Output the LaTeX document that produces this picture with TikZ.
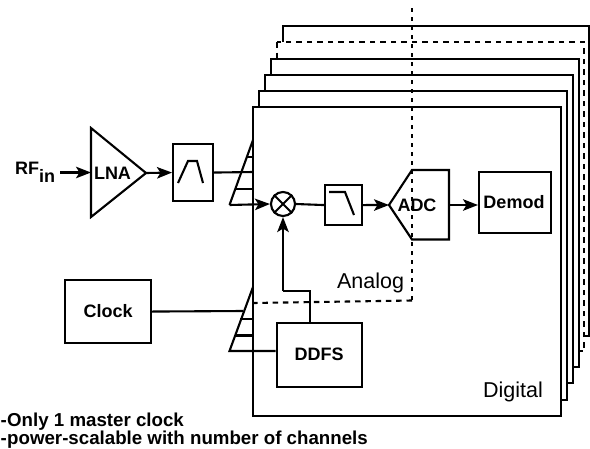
\documentclass[tikz,border=0pt]{standalone}
\usepackage{fontspec}
\setmainfont{Liberation Sans}
\usetikzlibrary{arrows.meta}
\tikzset{
  px/.style={x=1pt,y=-1pt},
  ln/.style={line width=2.1pt,line join=miter},
  arr/.style={ln,-{Stealth[length=15pt,width=11.5pt,inset=3.5pt]}},
  card/.style={ln,fill=white},
  dashcard/.style={ln,fill=white,dash pattern=on 5.5pt off 5pt},
  dotline/.style={line width=2.6pt,dash pattern=on 3.5pt off 5.5pt},
  dashline/.style={line width=2.1pt,dash pattern=on 5.5pt off 4.8pt},
  box/.style={ln,draw,fill=white,inner sep=0pt,font=\fontsize{18}{18}\bfseries\selectfont,anchor=north west},
  lbl/.style={inner sep=0pt,font=\fontsize{18}{18}\bfseries\selectfont},
  reg/.style={inner sep=0pt,font=\fontsize{21.5}{22}\selectfont},
  note/.style={inner sep=0pt,anchor=base west,font=\fontsize{18.7}{18}\bfseries\selectfont}
}
\begin{document}
\begin{tikzpicture}[px]
\useasboundingbox (0,0) rectangle (590,448);
\fill[white] (0,0) rectangle (590,448);
% stacked channel cards
\draw[card] (283,25.7) rectangle (589,336);
\draw[dashcard] (277,42) rectangle (584,351);
\draw[card] (271,58.7) rectangle (579,367);
\draw[card] (265,75) rectangle (573,383);
\draw[card] (259,91) rectangle (567,400);
\draw[card] (253,107) rectangle (561,416);
% left signal path
\node[lbl,anchor=base west] (rfin) at (15,174) {RF\raisebox{-8.5pt}{in}};
\coordinate (rfstart) at (60,172.5);
\coordinate (lnaa) at (91,128);
\coordinate (lnab) at (91,217);
\coordinate (lnac) at (146,173);
\coordinate (lnain) at (91,172.5);
\draw[ln] (lnaa) -- (lnac) -- (lnab) -- cycle;
\node[lbl] (lna) at (112.5,173) {LNA};
\draw[arr] (rfstart) -- (lnain);
\node[box,minimum width=40pt,minimum height=57pt] (bpf) at (172,143) {};
\draw[ln] (178,183) -- (188,161) -- (197,161) -- (203,183);
\draw[arr] (lnac) -- (bpf.west);
% upper splitter
\coordinate (sa) at (253,140);
\coordinate (sb) at (229.5,205);
\coordinate (s1l) at (247,157);
\coordinate (s1r) at (253,157);
\coordinate (s2r) at (253,172);
\coordinate (s3l) at (236,189);
\coordinate (s3r) at (253,189);
\draw[ln] (sa) -- (sb);
\draw[ln] (s1l) -- (s1r);
\draw[ln] (bpf.east) -- (s2r);
\draw[ln] (s3l) -- (s3r);
% mixer
\node[ln,draw,circle,fill=white,minimum size=24pt,inner sep=0pt] (mix) at (283,204) {};
\draw[ln] (mix.north west) -- (mix.south east);
\draw[ln] (mix.north east) -- (mix.south west);
\draw[arr] (sb) -- (mix.west);
% low-pass filter
\node[box,minimum width=37pt,minimum height=40pt] (lpf) at (324,184) {};
\draw[ln] (329,192) -- (345,192) -- (354,215);
\draw[ln] (mix.east) -- (lpf.west);
% ADC
\coordinate (adctip) at (389,205);
\coordinate (adcout) at (449,205);
\draw[ln,fill=white] (adctip) -- (412,170) -- (449,170) -- (449,239.5) -- (412,239.5) -- cycle;
\draw[arr] (lpf.east) -- (adctip);
% Demod
\node[box,minimum width=72pt,minimum height=61pt] (demod) at (478,171) {};
\node[lbl] (demodt) at (514,202) {Demod};
\draw[arr] (adcout) -- (demod.west |- adcout);
% DDFS
\node[box,minimum width=85pt,minimum height=64pt] (ddfs) at (275.5,321.7) {DDFS};
\coordinate (ddfstop) at (310,321.7);
\coordinate (loopr) at (310,291);
\coordinate (loopl) at (283,291);
\draw[ln] (ddfstop) -- (loopr) -- (loopl);
\draw[arr] (loopl) -- (mix.south);
% clock and lower splitter
\node[box,minimum width=86pt,minimum height=63pt] (clock) at (64,279) {Clock};
\coordinate (ca) at (253,287);
\coordinate (cb) at (229.5,351);
\coordinate (cin) at (243,311);
\coordinate (c1l) at (240,319);
\coordinate (c1r) at (253,319);
\coordinate (c2l) at (235.5,335.5);
\coordinate (c2r) at (253,335.5);
\draw[ln] (ca) -- (cb) -- (ddfs.west |- cb);
\draw[ln] (clock.east) -- (cin);
\draw[ln] (c1l) -- (c1r);
\draw[ln] (c2l) -- (c2r);
% analog / digital boundary
\coordinate (dtop) at (412,8);
\coordinate (dcorner) at (412,300.5);
\coordinate (dleft) at (253,303);
\draw[dotline] (dtop) -- (dcorner);
\draw[dashline] (dcorner) -- (dleft);
% labels
\node[lbl] (adc) at (417,205) {ADC};
\node[reg] (analog) at (370.5,283) {Analog};
\node[reg] (digital) at (513,392) {Digital};
\node[note] (n1a) at (0.5,426.5) {-};
\node[note] (n1) at (7,426.5) {Only 1 master clock};
\node[note] (n2a) at (0.5,444) {-};
\node[note] (n2) at (7,444) {power-scalable with number of channels};
\end{tikzpicture}
\end{document}
